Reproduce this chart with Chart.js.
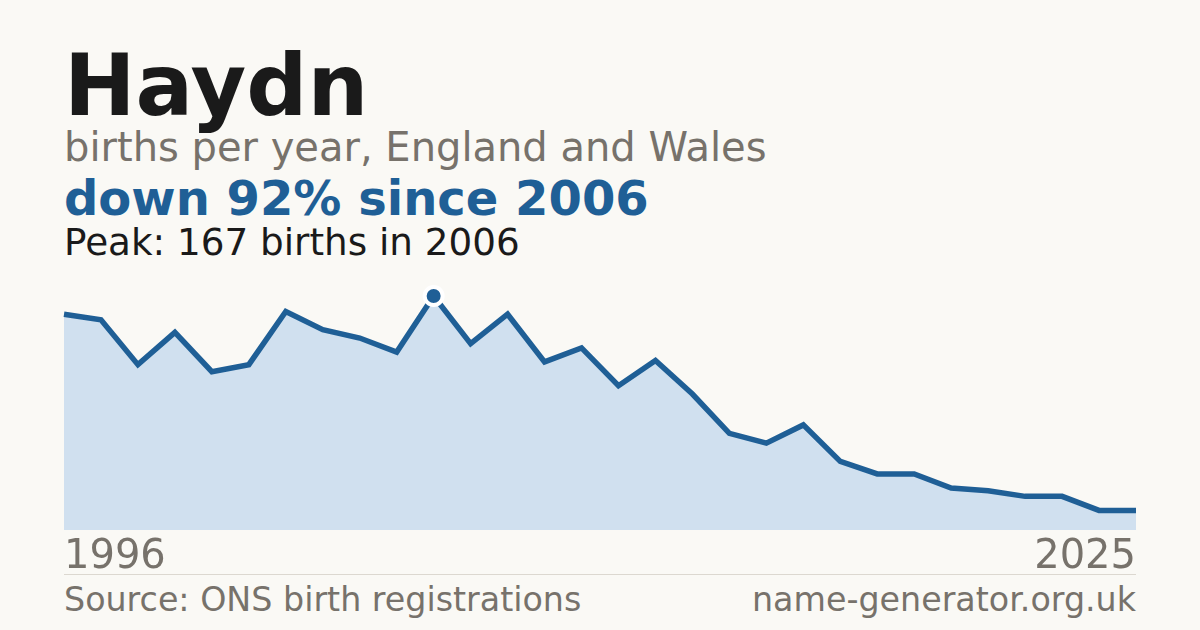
<!DOCTYPE html>
<html>
<head>
<meta charset="utf-8">
<script src="https://cdn.jsdelivr.net/npm/chart.js@4"></script>
<style>
  html, body { margin: 0; padding: 0; }
  body {
    width: 1200px; height: 630px; overflow: hidden; position: relative;
    background: #faf9f5; font-family: "DejaVu Sans", sans-serif;
  }
  .txt { position: absolute; left: 64px; line-height: 1; white-space: nowrap; }
  #title { top: 43px; font-size: 85.5px; font-weight: bold; color: #1a1a1a; }
  #sub { top: 127px; font-size: 40px; color: #77726b; }
  #change { top: 174px; font-size: 48px; font-weight: bold; color: #1f5f96; }
  #peak { top: 224px; font-size: 37.3px; color: #1a1a1a; }
  #source { top: 583px; font-size: 33.3px; color: #77726b; }
  #site { top: 583px; left: auto; right: 64px; font-size: 33.3px; color: #77726b; }
  #rule { position: absolute; left: 64px; width: 1072px; top: 574px; height: 1px; background: #dcd8d0; }
  #chart { position: absolute; left: 0; top: 0; }
</style>
</head>
<body>
<div class="txt" id="title">Haydn</div>
<div class="txt" id="sub">births per year, England and Wales</div>
<div class="txt" id="change">down 92% since 2006</div>
<div class="txt" id="peak">Peak: 167 births in 2006</div>
<div id="rule"></div>
<div class="txt" id="source">Source: ONS birth registrations</div>
<div class="txt" id="site">name-generator.org.uk</div>
<canvas id="chart" width="1200" height="630"></canvas>
<script>
const years = [1996, 1997, 1998, 1999, 2000, 2001, 2002, 2003, 2004, 2005,
               2006, 2007, 2008, 2009, 2010, 2011, 2012, 2013, 2014, 2015,
               2016, 2017, 2018, 2019, 2020, 2021, 2022, 2023, 2024, 2025];
const births = [154, 150, 118, 141, 113, 118, 156, 143, 137, 127,
                167, 133, 154, 120, 130, 103, 121, 97, 69, 62,
                75, 49, 40, 40, 30, 28, 24, 24, 14, 14];

const peakValue = Math.max(...births);
const peakIndex = births.indexOf(peakValue);
const blue = "#1f5f96";

const ctx = document.getElementById("chart").getContext("2d");
new Chart(ctx, {
    type: "line",
    data: {
        labels: years,
        datasets: [{
            data: births,
            borderColor: blue,
            borderWidth: 5.5,
            backgroundColor: "#d0e0ef",
            fill: "origin",
            tension: 0,
            clip: false,
            pointRadius: births.map((v, i) => i === peakIndex ? 9 : 0),
            pointBackgroundColor: blue,
            pointBorderColor: "#ffffff",
            pointBorderWidth: 4,
        }],
    },
    options: {
        responsive: false,
        animation: false,
        devicePixelRatio: 1,
        layout: { padding: { left: 64, right: 64, top: 296, bottom: 40 } },
        plugins: { legend: { display: false }, tooltip: { enabled: false } },
        scales: {
            x: {
                offset: false,
                grid: { display: false, drawTicks: false },
                border: { display: false },
                afterFit: function (scale) { scale.height = 60; },
                ticks: {
                    autoSkip: false,
                    maxRotation: 0,
                    align: "inner",
                    padding: 4,
                    color: "#77726b",
                    font: { family: "DejaVu Sans", size: 40 },
                    callback: function (val, i) {
                        return (i === 0 || i === years.length - 1) ? years[i] : "";
                    },
                },
            },
            y: {
                display: false,
                min: 0,
                max: peakValue,
            },
        },
    },
});
</script>
</body>
</html>
